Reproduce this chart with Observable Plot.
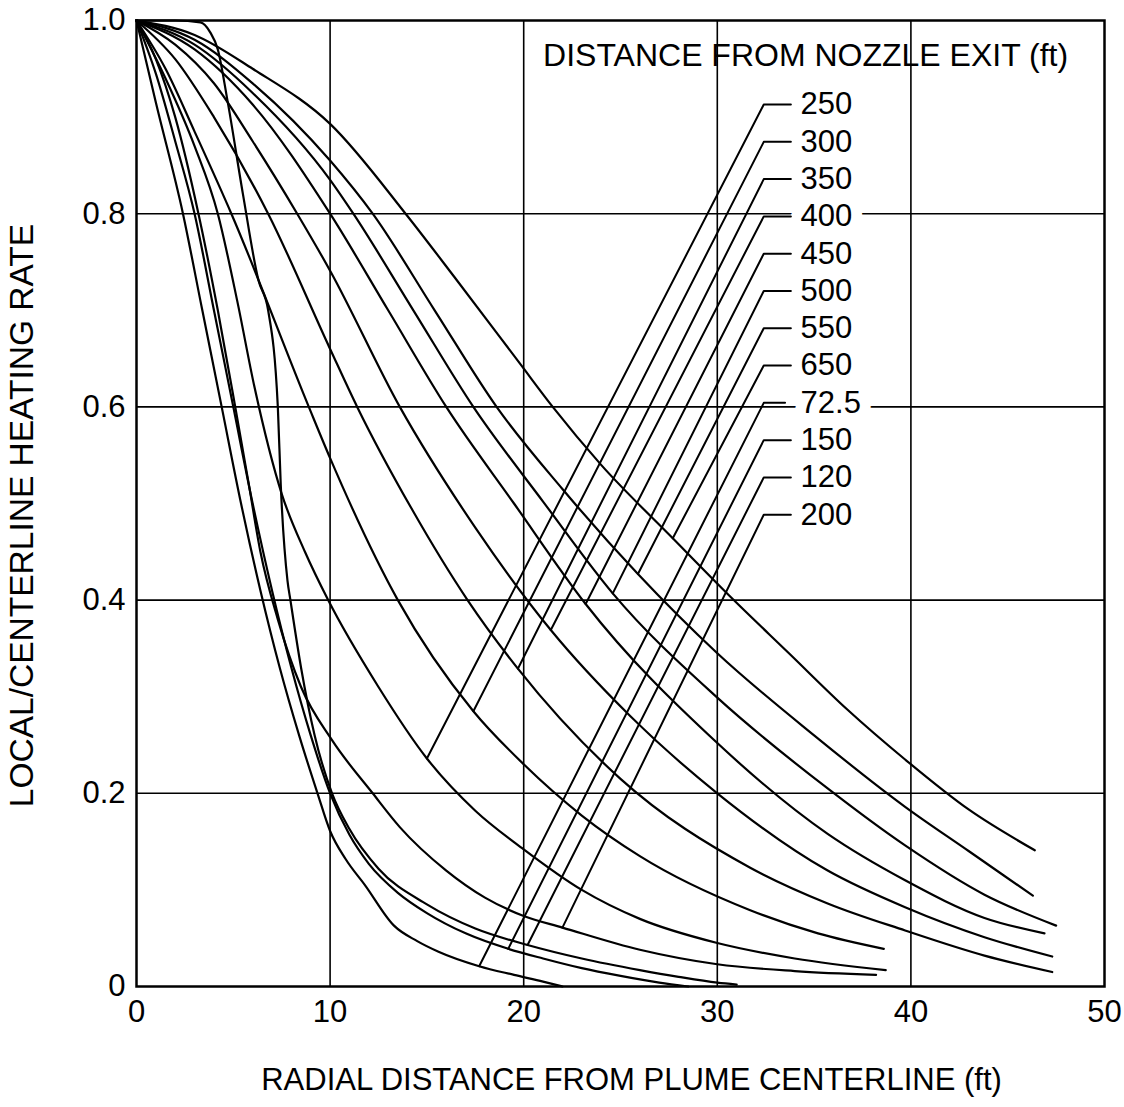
<!DOCTYPE html>
<html>
<head>
<meta charset="utf-8">
<script src="https://cdn.jsdelivr.net/npm/d3@7"></script>
<script src="https://cdn.jsdelivr.net/npm/@observablehq/plot@0.6"></script>
<style>
  html, body { margin: 0; padding: 0; background: #fff; }
  svg { font-family: "Liberation Sans", Arial, Helvetica, sans-serif; }
</style>
</head>
<body>
<div id="chart"></div>
<script>
// Series labels in the order they appear in the legend column
const labels = ["250", "300", "350", "400", "450", "500", "550", "650", "72.5", "150", "120", "200"];

// Curves: [radial distance (ft), local/centerline heating rate]
const c250 = [[0,1],[1.5,0.94],[3,0.87],[4.2,0.80],[5.2,0.71],[6.1,0.62],[7.5,0.51],[8.7,0.45],[9.9,0.40],[12.5,0.31],[15,0.236],[17.5,0.182],[20,0.142],[23,0.10],[26,0.07],[30,0.045],[34,0.029],[38.7,0.017]];
const c300 = [[0,1],[1.5,0.95],[3,0.885],[4.9,0.80],[8.9,0.60],[10,0.547],[13.5,0.40],[17.4,0.285],[20,0.23],[23,0.177],[26,0.135],[31.7,0.079],[35.2,0.055],[38.6,0.039]];
const c350 = [[0,1],[2,0.96],[4,0.90],[6.8,0.80],[10,0.66],[11.4,0.60],[14.2,0.495],[17.1,0.40],[19.7,0.329],[25,0.215],[31.7,0.123],[35.7,0.086],[39.7,0.058],[43.8,0.032],[47.3,0.015]];
const c400 = [[0,1],[2,0.975],[4,0.935],[6,0.875],[8.3,0.80],[10,0.741],[13.6,0.60],[17.5,0.475],[21.4,0.369],[25.5,0.28],[30,0.20],[35.7,0.12],[39.7,0.082],[43.8,0.051],[47.3,0.031]];
const c450 = [[0,1],[3,0.97],[6,0.913],[10,0.80],[13,0.70],[16,0.60],[19.5,0.50],[23.2,0.396],[30,0.252],[35.7,0.158],[39.7,0.110],[43.8,0.071],[46.9,0.055]];
const c500 = [[0,1],[3,0.975],[6,0.925],[10,0.835],[11.2,0.80],[14.3,0.70],[17.4,0.60],[21,0.502],[24.6,0.407],[30,0.299],[35.7,0.205],[39.7,0.146],[43.8,0.095],[47.5,0.063]];
const c550 = [[0,1],[3,0.98],[6,0.935],[10,0.855],[12.2,0.80],[15.4,0.70],[18.6,0.60],[22,0.515],[25.9,0.427],[30,0.345],[35,0.26],[39.7,0.186],[43,0.14],[46.3,0.094]];
const c650 = [[0,1],[3,0.985],[6,0.95],[10,0.893],[13.9,0.80],[16.4,0.735],[19.8,0.645],[21.5,0.60],[24,0.54],[27.7,0.464],[30.6,0.405],[33.7,0.345],[36.7,0.287],[39.7,0.235],[43,0.183],[46.4,0.141]];
const c72_5 = [[0,1],[1,0.915],[2.4,0.80],[3.4,0.70],[4.4,0.60],[5.4,0.50],[6.4,0.41],[7.4,0.33],[8.4,0.26],[9.35,0.20],[10,0.161],[10.8,0.132],[11.8,0.105],[13.3,0.063],[14.5,0.047],[15.6,0.036],[17.7,0.021],[19.5,0.012],[21,0.005],[22,0.0]];
const c150 = [[0,1],[1,0.945],[2,0.875],[3.0,0.80],[4.0,0.70],[5.0,0.60],[6.0,0.50],[7.0,0.41],[8.0,0.33],[9.0,0.26],[10,0.2],[11,0.157],[12,0.127],[13.5,0.097],[15,0.076],[17,0.055],[19.2,0.039],[21,0.029],[23,0.019],[25,0.011],[27,0.004],[28.5,0.0]];
const c120 = [[0,1],[2,1.0],[3.3,0.998],[3.8,0.988],[4.2,0.97],[4.7,0.917],[5.5,0.82],[6.3,0.731],[6.8,0.70],[7.3,0.60],[7.45,0.52],[7.8,0.42],[7.95,0.40],[8.5,0.33],[9.2,0.26],[10.1,0.20],[11,0.163],[12.5,0.122],[15,0.085],[17.5,0.06],[20.2,0.043],[23,0.029],[26,0.017],[28,0.01],[30,0.004],[31,0.002]];
const c200 = [[0,1],[1,0.96],[2,0.90],[3.2,0.80],[4.2,0.70],[5.1,0.60],[5.8,0.52],[6.4,0.45],[7.3,0.38],[8.5,0.31],[10.1,0.255],[12.2,0.20],[13.6,0.165],[16,0.12],[18,0.092],[20,0.073],[22,0.061],[26,0.038],[30,0.023],[34,0.016],[38.2,0.012]];

const curves = [c250, c300, c350, c400, c450, c500, c550, c650, c72_5, c150, c120, c200];

// Point on each curve where its leader line ends (same order as labels)
const leaderEndX = [15.0, 17.4, 19.7, 21.4, 23.2, 24.6, 25.9, 27.7, 17.7, 19.2, 20.2, 22.0];
const leaderEndY = [0.236, 0.285, 0.329, 0.369, 0.396, 0.407, 0.427, 0.464, 0.021, 0.039, 0.043, 0.061];

// Axis ticks
const xTicks = [0, 10, 20, 30, 40, 50];
const yTicks = [0, 0.2, 0.4, 0.6, 0.8, 1.0];
const xGrid = [10, 20, 30, 40];
const yGrid = [0.2, 0.4, 0.6, 0.8];

const legendTitle = "DISTANCE FROM NOZZLE EXIT (ft)";
const xTitle = "RADIAL DISTANCE FROM PLUME CENTERLINE (ft)";
const yTitle = "LOCAL/CENTERLINE HEATING RATE";

// ---- build tables for the library ----
const lineData = curves.flatMap((pts, i) => pts.map(([x, y]) => ({series: labels[i], x, y})));

// legend column layout (annotation geometry)
const labelTop = 0.913, labelStep = 0.0386;
const barStart = 32.4, barEnd = 33.8, labelX = 34.3;
const labelRows = labels.map((lab, i) => ({lab, i, y: labelTop - i * labelStep}));
const leaderData = labelRows.flatMap(({lab, i, y}) => [
  {lab, x: leaderEndX[i], y: leaderEndY[i]},
  {lab, x: barStart, y},
  {lab, x: barEnd - (lab === "72.5" ? 0.3 : 0), y}
]);

const fontTick = 31, fontTitle = 32;

const chart = Plot.plot({
  width: 1124,
  height: 1107,
  marginLeft: 136,
  marginRight: 20,
  marginTop: 20,
  marginBottom: 121,
  x: {domain: [0, 50]},
  y: {domain: [0, 1]},
  style: {background: "white", color: "black"},
  marks: [
    Plot.ruleX(xGrid, {stroke: "black", strokeWidth: 1.6}),
    Plot.ruleY(yGrid, {stroke: "black", strokeWidth: 1.6}),
    // white knock-outs behind the legend numbers
    Plot.text(labelRows, {x: labelX, y: "y", text: "lab", textAnchor: "start", fontSize: fontTick,
      fill: "white", stroke: "white", strokeWidth: 22, lineAnchor: "middle"}),
    Plot.line(lineData, {x: "x", y: "y", z: "series", stroke: "black", strokeWidth: 2.2, curve: "monotone-x"}),
    Plot.line(leaderData, {x: "x", y: "y", z: "lab", stroke: "black", strokeWidth: 2}),
    Plot.text(labelRows, {x: labelX, y: "y", text: "lab", textAnchor: "start", fontSize: fontTick,
      fill: "black", lineAnchor: "middle"}),
    Plot.text([legendTitle], {x: 21.0, y: 0.964, textAnchor: "start", fontSize: fontTitle, fill: "black", lineAnchor: "middle"}),
    Plot.frame({stroke: "black", strokeWidth: 2.5}),
    Plot.axisX(xTicks, {tickSize: 0, tickPadding: 13, fontSize: fontTick, label: null, tickFormat: d => String(d)}),
    Plot.axisY(yTicks, {tickSize: 0, tickPadding: 11, fontSize: fontTick, label: null,
      tickFormat: d => d === 0 ? "0" : d.toFixed(1)}),
    Plot.text([xTitle], {frameAnchor: "bottom", dy: 94, dx: 11, textAnchor: "middle", fontSize: 31, fill: "black", lineAnchor: "middle"}),
    Plot.text([yTitle], {frameAnchor: "left", dx: -114, dy: 12, rotate: -90, textAnchor: "middle", fontSize: 33.5, fill: "black", lineAnchor: "middle"})
  ]
});
document.getElementById("chart").appendChild(chart);
</script>
</body>
</html>
